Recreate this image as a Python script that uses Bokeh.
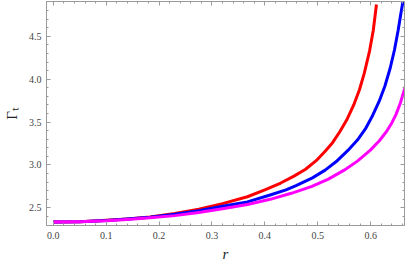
import numpy as np
from bokeh.plotting import figure
from bokeh.models import LinearAxis, Range1d, FixedTicker, NumeralTickFormatter, CustomJSTickFormatter
from bokeh.embed import file_html
from bokeh.resources import INLINE

r_red = [0.0, 0.05, 0.1, 0.14, 0.183, 0.23, 0.275, 0.32, 0.367, 0.40, 0.43, 0.455, 0.477,
         0.497, 0.514, 0.528, 0.542, 0.556, 0.568, 0.579, 0.588, 0.598, 0.605, 0.611]
g_red = [2.335, 2.34, 2.355, 2.372, 2.395, 2.435, 2.485, 2.55, 2.63, 2.71, 2.79, 2.87, 2.95,
         3.05, 3.16, 3.26, 3.39, 3.54, 3.70, 3.88, 4.07, 4.33, 4.57, 4.87]

r_blue = [0.0, 0.05, 0.1, 0.14, 0.183, 0.23, 0.275, 0.32, 0.367, 0.41, 0.44, 0.459, 0.49,
          0.514, 0.535, 0.557, 0.575, 0.590, 0.604, 0.616, 0.627, 0.637, 0.645, 0.652,
          0.657, 0.6615]
g_blue = [2.335, 2.34, 2.353, 2.37, 2.39, 2.425, 2.466, 2.52, 2.57, 2.65, 2.71, 2.76, 2.85,
          2.94, 3.04, 3.17, 3.29, 3.42, 3.58, 3.74, 3.92, 4.13, 4.34, 4.57, 4.76, 4.92]

r_mag = [0.0, 0.05, 0.1, 0.14, 0.183, 0.23, 0.275, 0.32, 0.367, 0.41, 0.45, 0.489, 0.52,
         0.550, 0.575, 0.599, 0.616, 0.630, 0.640, 0.648, 0.656, 0.664, 0.668]
g_mag = [2.335, 2.34, 2.35, 2.365, 2.385, 2.41, 2.447, 2.49, 2.54, 2.60, 2.67, 2.75, 2.835,
         2.94, 3.045, 3.17, 3.28, 3.39, 3.49, 3.59, 3.72, 3.88, 3.97]

x_ticks = [0.0, 0.1, 0.2, 0.3, 0.4, 0.5, 0.6]
y_ticks = [2.5, 3.0, 3.5, 4.0, 4.5]

FONT = "Liberation Serif"
GRAY = "#9a9a9a"

p = figure(width=407, height=264, output_backend="svg", toolbar_location=None,
           x_range=Range1d(-0.0128, 0.664), y_range=Range1d(2.295, 4.905),
           x_axis_location=None, y_axis_location=None,
           min_border_left=43, min_border_right=3, min_border_top=1, min_border_bottom=35)
p.grid.visible = False
p.outline_line_color = GRAY
p.background_fill_color = "white"

def style(ax, labels=True):
    ax.axis_line_color = GRAY
    ax.major_tick_line_color = GRAY
    ax.minor_tick_line_color = GRAY
    ax.major_tick_in = 4
    ax.major_tick_out = 0
    ax.minor_tick_in = 2
    ax.minor_tick_out = 0
    ax.major_label_text_font = FONT
    ax.major_label_text_font_size = "10px"
    ax.major_label_text_color = "#444444"
    ax.axis_label_text_font = FONT
    ax.axis_label_text_color = "#222222"
    if labels:
        ax.formatter = NumeralTickFormatter(format="0.0")
    else:
        ax.formatter = CustomJSTickFormatter(code="return ''")
        ax.major_label_standoff = 0

xt = FixedTicker(ticks=x_ticks, minor_ticks=list(np.round(np.arange(-0.02, 0.7, 0.02), 3)))
yt = FixedTicker(ticks=y_ticks, minor_ticks=list(np.round(np.arange(2.3, 5.0, 0.1), 3)))

bx = LinearAxis(ticker=xt); style(bx); bx.major_label_standoff = 6
bx.axis_label = "r"
bx.axis_label_text_font_style = "italic"
bx.axis_label_text_font_size = "15px"
bx.axis_label_standoff = 4
ly = LinearAxis(ticker=yt); style(ly); ly.major_label_standoff = 5
ly.axis_label = "Γₜ"
ly.axis_label_text_font_style = "normal"
ly.axis_label_text_font_size = "15px"
ly.axis_label_standoff = 6
tx = LinearAxis(ticker=xt); style(tx, False)
ry = LinearAxis(ticker=yt); style(ry, False)
p.add_layout(bx, "below")
p.add_layout(ly, "left")
p.add_layout(tx, "above")
p.add_layout(ry, "right")

p.line(r_red, g_red, line_color="#ff0000", line_width=3, line_join="round")
p.line(r_blue, g_blue, line_color="#0000ff", line_width=3, line_join="round")
p.line(r_mag, g_mag, line_color="#ff00ff", line_width=3, line_join="round")

open("out.html", "w").write(file_html(p, INLINE))
